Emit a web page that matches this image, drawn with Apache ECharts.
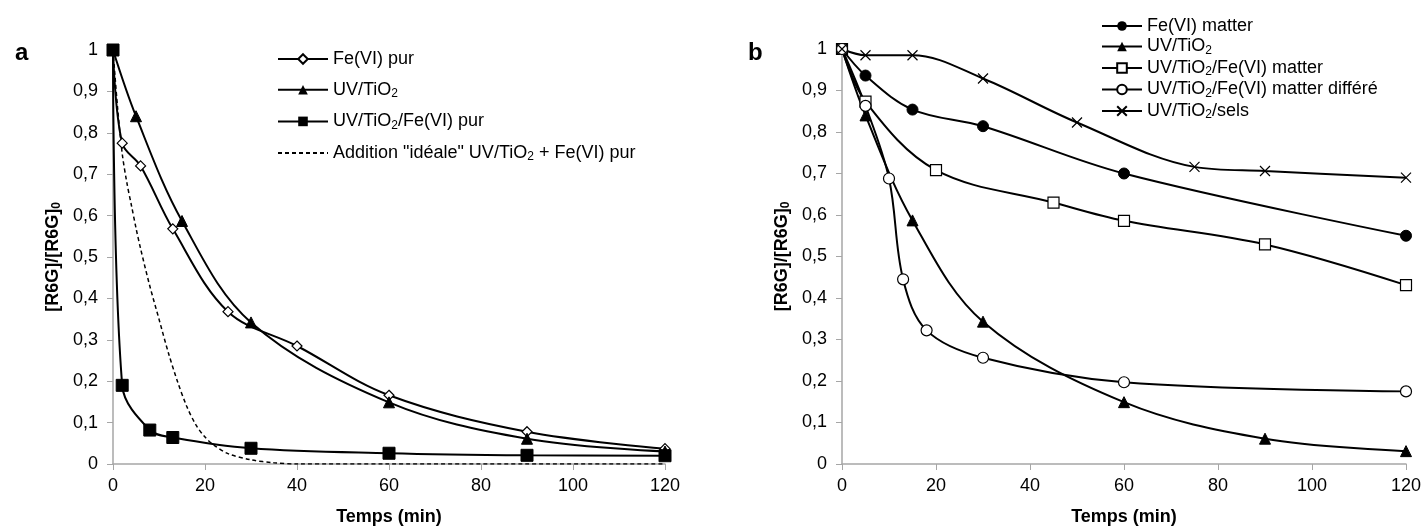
<!DOCTYPE html>
<html><head><meta charset="utf-8">
<script src="https://cdn.jsdelivr.net/npm/echarts@6/dist/echarts.min.js"></script>
<style>html,body{margin:0;background:#fff}#c{width:1426px;height:531px}</style>
</head><body><div id="c"></div>
<script>
// ---- tick labels ----
const xTicks = [0, 20, 40, 60, 80, 100, 120];
const yTicks = [0, 0.1, 0.2, 0.3, 0.4, 0.5, 0.6, 0.7, 0.8, 0.9, 1];

// ---- panel a ----
const aFeX = [0, 2, 6, 13, 25, 40, 60, 90, 120];
const aFeY = [1, 0.775, 0.72, 0.568, 0.368, 0.285, 0.166, 0.078, 0.037];
const aUvX = [0, 5, 15, 30, 60, 90, 120];
const aUvY = [1, 0.84, 0.587, 0.342, 0.149, 0.061, 0.03];
const aMixX = [0, 2, 8, 13, 30, 60, 90, 120];
const aMixY = [1, 0.19, 0.082, 0.064, 0.038, 0.026, 0.021, 0.02];
const aIdealX = [0, 1, 2, 3, 4, 5, 6, 8, 10, 12, 14, 16, 18, 20, 22, 25, 30, 35, 40, 60, 90, 120];
const aIdealY = [1, 0.86, 0.75, 0.68, 0.625, 0.57, 0.52, 0.43, 0.35, 0.27, 0.2, 0.14, 0.095, 0.065, 0.045, 0.025, 0.01, 0.003, 0, 0, 0, 0];

// ---- panel b ----
const bFeX = [0, 5, 15, 30, 60, 120];
const bFeY = [1, 0.936, 0.854, 0.814, 0.7, 0.55];
const bUvX = [0, 5, 15, 30, 60, 90, 120];
const bUvY = [1, 0.84, 0.587, 0.343, 0.149, 0.061, 0.031];
const bMixX = [0, 5, 20, 45, 60, 90, 120];
const bMixY = [1, 0.873, 0.708, 0.63, 0.586, 0.529, 0.431];
const bDelX = [0, 5, 10, 13, 18, 30, 60, 120];
const bDelY = [1, 0.863, 0.688, 0.445, 0.322, 0.256, 0.197, 0.175];
const bSelX = [0, 5, 15, 30, 50, 75, 90, 120];
const bSelY = [1, 0.985, 0.985, 0.929, 0.823, 0.716, 0.706, 0.69];

const zip = (xs, ys) => xs.map((x, i) => [x, ys[i]]);
const FONT = '"Liberation Sans", Arial, sans-serif';
const fmtY = v => (Math.round(v * 10) / 10).toString().replace('.', ',');
const rich = {
  n: { fontFamily: FONT, fontSize: 18, color: '#000', lineHeight: 20 },
  s: { fontFamily: FONT, fontSize: 12, color: '#000', lineHeight: 8, verticalAlign: 'bottom' }
};
const richName = name => name.split('TiO2').map(p => p ? '{n|' + p + '}' : '').join('{n|TiO}{s|2}');

function xAxis(idx) {
  return {
    gridIndex: idx, type: 'value', min: 0, max: 120, interval: 20,
    name: 'Temps (min)', nameLocation: 'middle', nameGap: 44,
    nameTextStyle: { fontFamily: FONT, fontSize: 18, fontWeight: 'bold', color: '#000' },
    axisLine: { lineStyle: { color: '#a6a6a6', width: 1.5 } },
    axisTick: { show: true, length: 6, lineStyle: { color: '#a6a6a6' } },
    axisLabel: { fontFamily: FONT, fontSize: 18, color: '#000', margin: 13 },
    splitLine: { show: false }
  };
}
function yAxis(idx) {
  return {
    gridIndex: idx, type: 'value', min: 0, max: 1, interval: 0.1,
    name: '{b|[R6G]/[R6G]}{bs|0}', nameLocation: 'middle', nameGap: 50, nameRotate: 90,
    nameTextStyle: {
      rich: {
        b: { fontFamily: FONT, fontSize: 18, fontWeight: 'bold', color: '#000', lineHeight: 20 },
        bs: { fontFamily: FONT, fontSize: 12, fontWeight: 'bold', color: '#000', lineHeight: 8, verticalAlign: 'bottom' }
      }
    },
    axisLine: { show: true, lineStyle: { color: '#a6a6a6', width: 1.5 } },
    axisTick: { show: true, length: 6, lineStyle: { color: '#a6a6a6' } },
    axisLabel: { fontFamily: FONT, fontSize: 18, color: '#000', margin: 15, formatter: fmtY },
    splitLine: { show: false }
  };
}

const line = (name, xi, data, symbol, size, open, extra) => Object.assign({
  name, type: 'line', xAxisIndex: xi, yAxisIndex: xi, data, smooth: 0.35,
  symbol, symbolSize: size, showAllSymbol: true,
  lineStyle: { color: '#000', width: 2 },
  itemStyle: open ? { color: '#fff', borderColor: '#000', borderWidth: 1.2 } : { color: '#000', borderColor: '#000' },
  emphasis: { disabled: true }, z: 3
}, extra || {});

const crossPath = 'path://M0,0L10,10M10,0L0,10';

const option = {
  animation: false,
  backgroundColor: '#fff',
  title: [
    { text: 'a', left: 10, top: 36, textStyle: { fontFamily: FONT, fontSize: 24, fontWeight: 'bold', color: '#000' } },
    { text: 'b', left: 743, top: 36, textStyle: { fontFamily: FONT, fontSize: 24, fontWeight: 'bold', color: '#000' } }
  ],
  grid: [
    { left: 113, top: 50, width: 552, height: 416 },
    { left: 842, top: 49, width: 564, height: 419 }
  ],
  xAxis: [xAxis(0), xAxis(1)],
  yAxis: [yAxis(0), yAxis(1)],
  legend: [
    {
      data: ['Fe(VI) pur', 'UV/TiO2', 'UV/TiO2/Fe(VI) pur', 'Addition "idéale" UV/TiO2 + Fe(VI) pur'],
      orient: 'vertical', left: 272, top: 45, itemGap: 12.7, itemWidth: 50, itemHeight: 12,
      selectedMode: false, formatter: richName, textStyle: { rich }
    },
    {
      data: ['Fe(VI) matter', 'UV/TiO2 ', 'UV/TiO2/Fe(VI) matter', 'UV/TiO2/Fe(VI) matter différé', 'UV/TiO2/sels'],
      orient: 'vertical', left: 1096, top: 12, itemGap: 2.5, itemWidth: 40, itemHeight: 12,
      selectedMode: false, formatter: n => richName(n.trim()), textStyle: { rich }
    }
  ],
  series: [
    line('Fe(VI) pur', 0, zip(aFeX, aFeY), 'diamond', 10, true),
    line('UV/TiO2', 0, zip(aUvX, aUvY), 'triangle', 11, false),
    line('UV/TiO2/Fe(VI) pur', 0, zip(aMixX, aMixY), 'rect', 12, false),
    line('Addition "idéale" UV/TiO2 + Fe(VI) pur', 0, zip(aIdealX, aIdealY), 'none', 0, false,
      { smooth: 0.3, lineStyle: { color: '#000', width: 1.5, type: [4, 3] }, z: 2,
        itemStyle: { color: 'rgba(0,0,0,0)', borderColor: 'rgba(0,0,0,0)', borderWidth: 0 } }),
    line('Fe(VI) matter', 1, zip(bFeX, bFeY), 'circle', 11, false),
    line('UV/TiO2 ', 1, zip(bUvX, bUvY), 'triangle', 11, false),
    line('UV/TiO2/Fe(VI) matter', 1, zip(bMixX, bMixY), 'rect', 11, true),
    line('UV/TiO2/Fe(VI) matter différé', 1, zip(bDelX, bDelY), 'circle', 11, true),
    line('UV/TiO2/sels', 1, zip(bSelX, bSelY), crossPath, 10, false,
      { itemStyle: { color: 'none', borderColor: '#000', borderWidth: 1.2 } })
  ]
};
echarts.init(document.getElementById('c'), null, { renderer: 'canvas' }).setOption(option);
</script>
</body></html>
